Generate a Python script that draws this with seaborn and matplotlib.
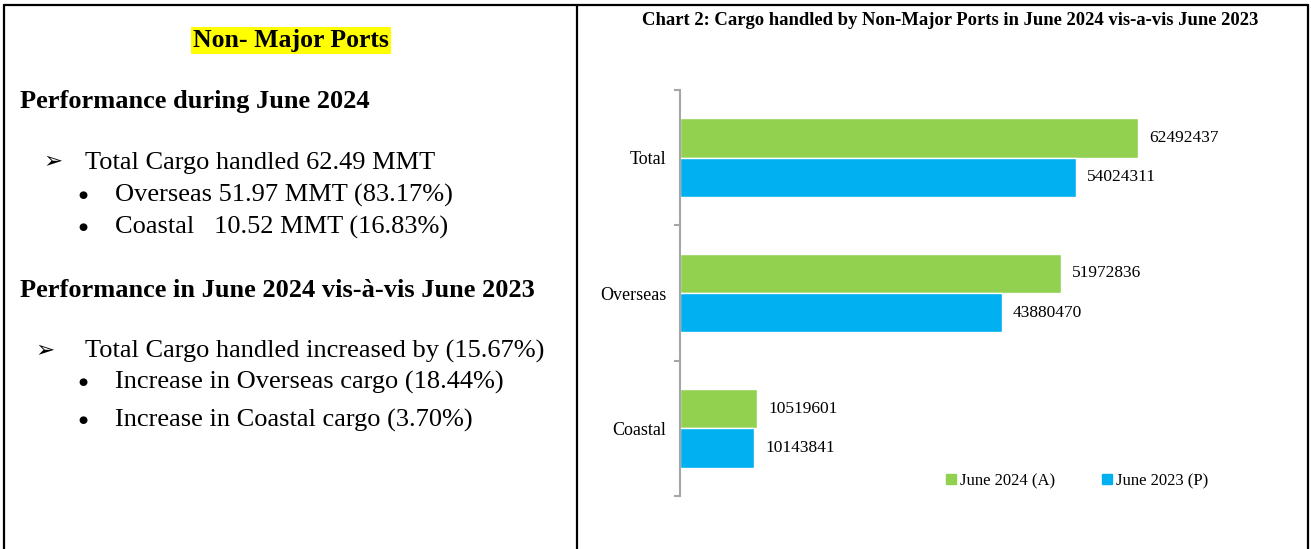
import pandas as pd
import seaborn as sns
import matplotlib.pyplot as plt
from matplotlib.lines import Line2D

# data
categories = ["Total", "Overseas", "Coastal"]
series_names = ["June 2024 (A)", "June 2023 (P)"]
june_2024 = [62492437, 51972836, 10519601]
june_2023 = [54024311, 43880470, 10143841]
colors = ["#92D050", "#00B0F0"]

df = pd.DataFrame({
    "category": categories * 2,
    "series": [series_names[0]] * 3 + [series_names[1]] * 3,
    "value": june_2024 + june_2023,
})

sns.set_theme(style="white")
plt.rcParams["font.family"] = ["Liberation Serif", "DejaVu Sans"]
plt.rcParams["text.color"] = "black"
plt.rcParams["ytick.labelcolor"] = "black"

W, H, dpi = 1311, 549, 100
fig = plt.figure(figsize=(W / dpi, H / dpi), dpi=dpi)

def fx(px):
    return px / W

def fy(py):
    return 1 - py / H

# panel borders
for (x0, y0, x1, y1) in [(4, 5, 1308, 5), (4, 5, 4, 549), (577, 5, 577, 549), (1308, 5, 1308, 549)]:
    fig.add_artist(Line2D([fx(x0), fx(x1)], [fy(y0), fy(y1)], color="black", lw=1.6))

# left text panel
fig.text(fx(291), fy(47), "Non- Major Ports", ha="center", va="baseline", fontsize=18.5,
         fontweight="bold", bbox=dict(facecolor="#FFFF00", edgecolor="none", pad=1.5))
fig.text(fx(20), fy(108), "Performance during June 2024", ha="left", va="baseline",
         fontsize=19, fontweight="bold")
fig.text(fx(20), fy(297), "Performance in June 2024 vis-à-vis June 2023", ha="left",
         va="baseline", fontsize=19, fontweight="bold")

lines = [
    (43, 85, 169, "➢", "Total Cargo handled 62.49 MMT"),
    (78, 115, 202, "●", "Overseas 51.97 MMT (83.17%)"),
    (78, 115, 234, "●", "Coastal   10.52 MMT (16.83%)"),
    (35, 85, 358, "➢", "Total Cargo handled increased by (15.67%)"),
    (78, 115, 389, "●", "Increase in Overseas cargo (18.44%)"),
    (78, 115, 427, "●", "Increase in Coastal cargo (3.70%)"),
]
for bx, tx, y, sym, txt in lines:
    if sym == "➢":
        fig.text(fx(bx), fy(y - 1), sym, ha="left", va="baseline", fontsize=16.5,
                 family=["DejaVu Sans"])
    else:
        fig.text(fx(bx), fy(y - 7), sym, ha="left", va="center", fontsize=7.5,
                 family=["DejaVu Sans"])
    fig.text(fx(tx), fy(y), txt, ha="left", va="baseline", fontsize=19)

# chart panel
fig.text(fx(950), fy(25), "Chart 2: Cargo handled by Non-Major Ports in June 2024 vis-a-vis June 2023",
         ha="center", va="baseline", fontsize=13.4, fontweight="bold")

ax_left, ax_right, ax_top, ax_bottom = 680, 1260, 90, 496
ax = fig.add_axes([fx(ax_left), fy(ax_bottom), fx(ax_right - ax_left), (ax_bottom - ax_top) / H])
sns.barplot(data=df, y="category", x="value", hue="series", order=categories,
            hue_order=series_names, palette=colors, orient="h", width=0.58,
            saturation=1, ax=ax, legend=False)

px_per_unit = (1138 - ax_left) / june_2024[0]
ax.set_xlim(0, (ax_right - ax_left) / px_per_unit)
ax.set_ylim(2.5, -0.5)

for cont in ax.containers:
    ax.bar_label(cont, labels=[f"{int(v)}" for v in cont.datavalues], padding=8, fontsize=12.5)

for s in ["top", "right", "bottom"]:
    ax.spines[s].set_visible(False)
ax.spines["left"].set_color("#A6A6A6")
ax.spines["left"].set_linewidth(1.5)
ax.set_xticks([])
ax.set_xlabel("")
ax.set_ylabel("")
ax.set_yticks([0, 1, 2])
ax.set_yticklabels(categories, fontsize=13)
ax.tick_params(axis="y", which="major", length=0, pad=10)
ax.set_yticks([-0.5, 0.5, 1.5, 2.5], minor=True)
ax.tick_params(axis="y", which="minor", length=4, color="#A6A6A6", width=1.5, left=True)

handles = [plt.Rectangle((0, 0), 1, 1, color=c) for c in colors]
fig.legend(handles, series_names, loc="center", bbox_to_anchor=(fx(1077), fy(481)), ncol=2,
           frameon=False, fontsize=12, handlelength=0.6, handleheight=0.6, handletextpad=0.25,
           columnspacing=2.8)

fig.savefig("out.png", dpi=dpi)
